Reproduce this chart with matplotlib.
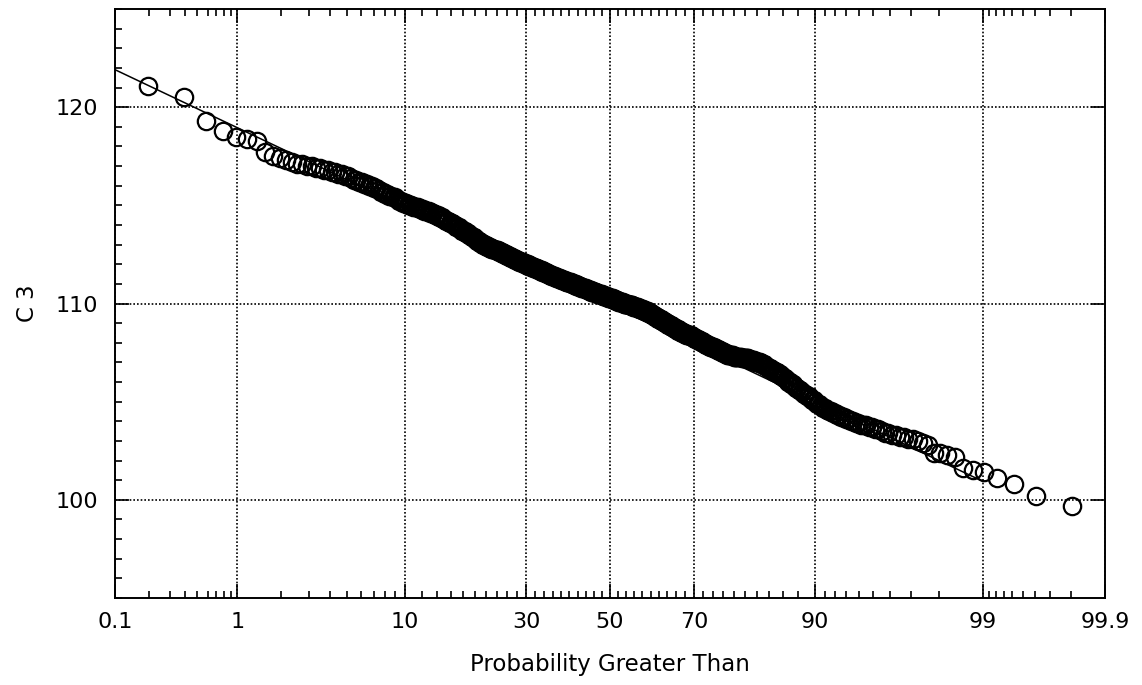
import numpy as np
import matplotlib
matplotlib.use("Agg")
import matplotlib.pyplot as plt
from statistics import NormalDist

# C3 readings (0.1 resolution) and how many times each one occurs, largest first
c3_levels = [121.1, 120.5, 119.3, 118.8, 118.5, 118.4, 118.3, 117.7, 117.5, 117.4,
             117.3, 117.2, 117.1, 117.0, 116.9, 116.8, 116.7, 116.6, 116.5, 116.4,
             116.3, 116.2, 116.1, 116.0, 115.9, 115.8, 115.7, 115.6, 115.5, 115.4,
             115.3, 115.2, 115.1, 115.0, 114.9, 114.8, 114.7, 114.6, 114.5, 114.4,
             114.3, 114.2, 114.1, 114.0, 113.9, 113.8, 113.7, 113.6, 113.5, 113.4,
             113.3, 113.2, 113.1, 113.0, 112.9, 112.8, 112.7, 112.6, 112.5, 112.4,
             112.3, 112.2, 112.1, 112.0, 111.9, 111.8, 111.7, 111.6, 111.5, 111.4,
             111.3, 111.2, 111.1, 111.0, 110.9, 110.8, 110.7, 110.6, 110.5, 110.4,
             110.3, 110.2, 110.1, 110.0, 109.9, 109.8, 109.7, 109.6, 109.5, 109.4,
             109.3, 109.2, 109.1, 109.0, 108.9, 108.8, 108.7, 108.6, 108.5, 108.4,
             108.3, 108.2, 108.1, 108.0, 107.9, 107.8, 107.7, 107.6, 107.5, 107.4,
             107.3, 107.2, 107.1, 107.0, 106.9, 106.8, 106.7, 106.6, 106.5, 106.4,
             106.3, 106.2, 106.1, 106.0, 105.9, 105.8, 105.7, 105.6, 105.5, 105.4,
             105.3, 105.2, 105.1, 105.0, 104.9, 104.8, 104.7, 104.6, 104.5, 104.4,
             104.3, 104.2, 104.1, 104.0, 103.9, 103.8, 103.7, 103.6, 103.5, 103.4,
             103.3, 103.2, 103.1, 103.0, 102.9, 102.8, 102.4, 102.3, 102.2, 101.6,
             101.5, 101.4, 101.1, 100.8, 100.2, 99.7]
c3_counts = [1, 1, 1, 1, 1, 1, 1, 1, 1, 1,
             1, 1, 2, 2, 2, 2, 2, 2, 2, 1,
             2, 2, 2, 2, 2, 1, 2, 2, 2, 2,
             1, 2, 3, 3, 4, 3, 4, 3, 3, 3,
             2, 3, 3, 2, 3, 2, 3, 3, 2, 3,
             2, 3, 2, 4, 4, 4, 4, 4, 4, 4,
             4, 5, 5, 5, 5, 6, 5, 5, 5, 6,
             6, 6, 7, 6, 6, 7, 6, 7, 7, 7,
             7, 6, 7, 6, 6, 7, 6, 6, 4, 4,
             4, 4, 4, 4, 4, 4, 4, 4, 5, 6,
             4, 4, 4, 4, 4, 5, 4, 4, 4, 7,
             7, 7, 5, 5, 3, 2, 3, 2, 3, 2,
             2, 2, 1, 2, 2, 1, 2, 2, 1, 2,
             2, 1, 2, 1, 2, 1, 2, 1, 2, 2,
             2, 2, 2, 2, 2, 3, 2, 2, 1, 2,
             2, 2, 2, 1, 1, 1, 2, 1, 1, 1,
             1, 1, 1, 1, 1, 1]

# straight reference line (normal fit)
fit_mean = 109.95
fit_sd = 3.87
fit_range = [0.1, 99.0]

major_probs = [0.1, 1, 10, 30, 50, 70, 90, 99, 99.9]
major_labels = ['0.1', '1', '10', '30', '50', '70', '90', '99', '99.9']
minor_probs = ([0.2, 0.3, 0.4, 0.5, 0.6, 0.7, 0.8, 0.9]
               + [2, 3, 4, 5, 6, 7, 8, 9]
               + list(range(12, 30, 2)) + list(range(32, 50, 2))
               + list(range(52, 70, 2)) + list(range(72, 90, 2))
               + [91, 92, 93, 94, 95, 96, 97, 98]
               + [99.1, 99.2, 99.3, 99.4, 99.5, 99.6, 99.7, 99.8])

nd = NormalDist()


def prob_fwd(p):
    p = np.clip(np.asarray(p, dtype=float) / 100.0, 1e-9, 1 - 1e-9)
    return np.vectorize(nd.inv_cdf, otypes=[float])(p)


def prob_inv(z):
    return np.vectorize(nd.cdf, otypes=[float])(np.asarray(z, dtype=float)) * 100.0


# sorted sample -> plotting positions i/(n+1), in percent exceeded
c3 = np.repeat(c3_levels, c3_counts)
n = len(c3)
prob_gt = np.arange(1, n + 1) / (n + 1) * 100.0

fig = plt.figure(figsize=(11.42, 6.85), dpi=100)
ax = fig.add_axes([115 / 1142, 1 - 598 / 685, 990 / 1142, 589 / 685])
ax.set_xscale('function', functions=(prob_fwd, prob_inv))

fit_y = [fit_mean - fit_sd * nd.inv_cdf(p / 100.0) for p in fit_range]
ax.plot(fit_range, fit_y, color='black', linewidth=1.1, zorder=3)
ax.plot(prob_gt, c3, linestyle='none', marker='o', markersize=12.5,
        markerfacecolor='none', markeredgecolor='black', markeredgewidth=1.6,
        zorder=4)

ax.set_xlim(0.1, 99.9)
ax.set_ylim(95, 125)
ax.set_xticks(major_probs)
ax.set_xticklabels(major_labels)
ax.set_xticks(minor_probs, minor=True)
ax.set_yticks([100, 110, 120])
ax.set_yticks([v for v in range(95, 126) if v % 10 != 0], minor=True)

ax.grid(True, which='major', color='black', linestyle=(0, (1, 1.2)),
        linewidth=1.2)
ax.tick_params(which='both', direction='in', top=True, right=True,
               width=1.2, labelsize=16, colors='black')
ax.tick_params(which='major', length=10, pad=10)
ax.tick_params(which='minor', length=5, right=False)
ax.tick_params(axis='y', which='major', pad=12)
for s in ax.spines.values():
    s.set_linewidth(1.4)

ax.set_xlabel('Probability Greater Than', fontsize=16.5, labelpad=15)
ax.set_ylabel('C 3', fontsize=16.5, labelpad=12)

fig.savefig('out.png', dpi=100, facecolor='white')
